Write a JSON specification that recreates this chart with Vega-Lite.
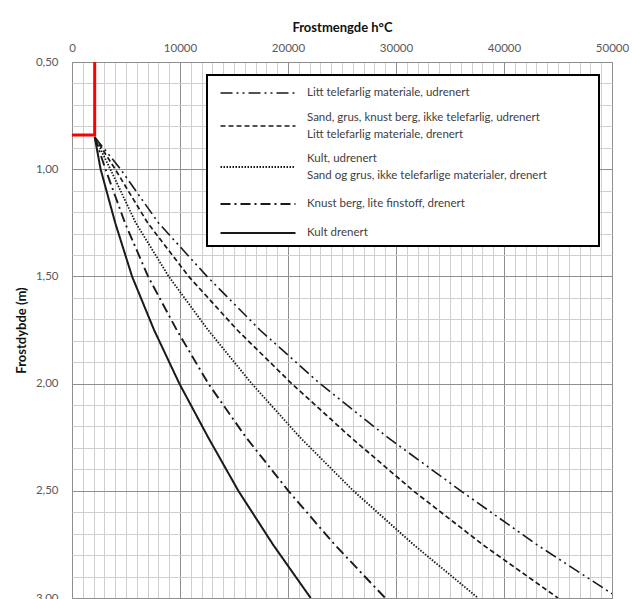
{
  "$schema": "https://vega.github.io/schema/vega-lite/v6.json",
  "width": 540,
  "height": 536,
  "autosize": {"type": "none"},
  "padding": {"left": 72, "top": 62, "right": 20, "bottom": 1},
  "background": "white",
  "config": {
    "font": "Lato",
    "view": {"stroke": "#9a9a9a", "strokeWidth": 1},
    "legend": {
      "orient": "none", "legendX": 135, "legendY": 13,
      "padding": 7, "gridAlign": "none",
      "strokeColor": "#000", "fillColor": "white",
      "symbolType": "M-3.75,0H3.75", "symbolSize": 400, "symbolStrokeColor": "#1a1a1a",
      "symbolOffset": 33,
      "labelFontSize": 11.5, "labelColor": "#404040", "labelLimit": 400, "labelOffset": 38,
      "rowPadding": 12,
      "titleOrient": "right", "titleFont": "DejaVu Sans", "titleFontSize": 13, "titlePadding": 4
    }
  },
  "datasets": {
    "curves": [
      {"kurve": "Litt telefarlig materiale, udrenert", "x": 2100, "y": 0.85},
      {"kurve": "Litt telefarlig materiale, udrenert", "x": 4500, "y": 1.0},
      {"kurve": "Litt telefarlig materiale, udrenert", "x": 8000, "y": 1.25},
      {"kurve": "Litt telefarlig materiale, udrenert", "x": 12500, "y": 1.5},
      {"kurve": "Litt telefarlig materiale, udrenert", "x": 17400, "y": 1.75},
      {"kurve": "Litt telefarlig materiale, udrenert", "x": 22960, "y": 2.0},
      {"kurve": "Litt telefarlig materiale, udrenert", "x": 29200, "y": 2.25},
      {"kurve": "Litt telefarlig materiale, udrenert", "x": 36000, "y": 2.5},
      {"kurve": "Litt telefarlig materiale, udrenert", "x": 43000, "y": 2.75},
      {"kurve": "Litt telefarlig materiale, udrenert", "x": 50000, "y": 2.98},

      {"kurve": "Sand, grus, knust berg, ikke telefarlig, udrenert|Litt telefarlig materiale, drenert", "x": 2100, "y": 0.85},
      {"kurve": "Sand, grus, knust berg, ikke telefarlig, udrenert|Litt telefarlig materiale, drenert", "x": 4000, "y": 1.0},
      {"kurve": "Sand, grus, knust berg, ikke telefarlig, udrenert|Litt telefarlig materiale, drenert", "x": 7000, "y": 1.25},
      {"kurve": "Sand, grus, knust berg, ikke telefarlig, udrenert|Litt telefarlig materiale, drenert", "x": 10800, "y": 1.5},
      {"kurve": "Sand, grus, knust berg, ikke telefarlig, udrenert|Litt telefarlig materiale, drenert", "x": 15300, "y": 1.75},
      {"kurve": "Sand, grus, knust berg, ikke telefarlig, udrenert|Litt telefarlig materiale, drenert", "x": 20340, "y": 2.0},
      {"kurve": "Sand, grus, knust berg, ikke telefarlig, udrenert|Litt telefarlig materiale, drenert", "x": 25800, "y": 2.25},
      {"kurve": "Sand, grus, knust berg, ikke telefarlig, udrenert|Litt telefarlig materiale, drenert", "x": 31600, "y": 2.5},
      {"kurve": "Sand, grus, knust berg, ikke telefarlig, udrenert|Litt telefarlig materiale, drenert", "x": 38000, "y": 2.75},
      {"kurve": "Sand, grus, knust berg, ikke telefarlig, udrenert|Litt telefarlig materiale, drenert", "x": 45000, "y": 3.0},

      {"kurve": "Kult, udrenert|Sand og grus, ikke telefarlige materialer, drenert", "x": 2100, "y": 0.85},
      {"kurve": "Kult, udrenert|Sand og grus, ikke telefarlige materialer, drenert", "x": 3550, "y": 1.0},
      {"kurve": "Kult, udrenert|Sand og grus, ikke telefarlige materialer, drenert", "x": 5900, "y": 1.25},
      {"kurve": "Kult, udrenert|Sand og grus, ikke telefarlige materialer, drenert", "x": 8950, "y": 1.5},
      {"kurve": "Kult, udrenert|Sand og grus, ikke telefarlige materialer, drenert", "x": 12600, "y": 1.75},
      {"kurve": "Kult, udrenert|Sand og grus, ikke telefarlige materialer, drenert", "x": 16640, "y": 2.0},
      {"kurve": "Kult, udrenert|Sand og grus, ikke telefarlige materialer, drenert", "x": 21100, "y": 2.25},
      {"kurve": "Kult, udrenert|Sand og grus, ikke telefarlige materialer, drenert", "x": 26050, "y": 2.5},
      {"kurve": "Kult, udrenert|Sand og grus, ikke telefarlige materialer, drenert", "x": 31600, "y": 2.75},
      {"kurve": "Kult, udrenert|Sand og grus, ikke telefarlige materialer, drenert", "x": 37600, "y": 3.0},

      {"kurve": "Knust berg, lite finstoff, drenert", "x": 2100, "y": 0.85},
      {"kurve": "Knust berg, lite finstoff, drenert", "x": 3100, "y": 1.0},
      {"kurve": "Knust berg, lite finstoff, drenert", "x": 4900, "y": 1.25},
      {"kurve": "Knust berg, lite finstoff, drenert", "x": 7040, "y": 1.5},
      {"kurve": "Knust berg, lite finstoff, drenert", "x": 9700, "y": 1.75},
      {"kurve": "Knust berg, lite finstoff, drenert", "x": 12620, "y": 2.0},
      {"kurve": "Knust berg, lite finstoff, drenert", "x": 16100, "y": 2.25},
      {"kurve": "Knust berg, lite finstoff, drenert", "x": 20030, "y": 2.5},
      {"kurve": "Knust berg, lite finstoff, drenert", "x": 24300, "y": 2.75},
      {"kurve": "Knust berg, lite finstoff, drenert", "x": 29000, "y": 3.0},

      {"kurve": "Kult drenert", "x": 2100, "y": 0.85},
      {"kurve": "Kult drenert", "x": 2650, "y": 1.0},
      {"kurve": "Kult drenert", "x": 4000, "y": 1.25},
      {"kurve": "Kult drenert", "x": 5560, "y": 1.5},
      {"kurve": "Kult drenert", "x": 7600, "y": 1.75},
      {"kurve": "Kult drenert", "x": 9940, "y": 2.0},
      {"kurve": "Kult drenert", "x": 12600, "y": 2.25},
      {"kurve": "Kult drenert", "x": 15400, "y": 2.5},
      {"kurve": "Kult drenert", "x": 18600, "y": 2.75},
      {"kurve": "Kult drenert", "x": 22100, "y": 3.0}
    ],
    "marker": [
      {"i": 0, "x": 0, "y": 0.84},
      {"i": 1, "x": 2100, "y": 0.84},
      {"i": 2, "x": 2100, "y": 0.5}
    ]
  },
  "encoding": {
    "x": {
      "field": "x", "type": "quantitative",
      "scale": {"domain": [0, 50000], "nice": false, "zero": false},
      "axis": {
        "orient": "top",
        "title": "Frostmengde h°C",
        "titleFontSize": 13, "titleFontWeight": "bold", "titleColor": "#111", "titlePadding": 8,
        "values": [0,1000,2000,3000,4000,5000,6000,7000,8000,9000,10000,11000,12000,13000,14000,15000,16000,17000,18000,19000,20000,21000,22000,23000,24000,25000,26000,27000,28000,29000,30000,31000,32000,33000,34000,35000,36000,37000,38000,39000,40000,41000,42000,43000,44000,45000,46000,47000,48000,49000,50000],
        "labelExpr": "datum.value % 10000 === 0 ? format(datum.value, 'd') : ''",
        "labelOverlap": false, "labelFlush": false,
        "labelFontSize": 11.5, "labelColor": "#595959", "labelPadding": 9,
        "ticks": false, "domain": false,
        "grid": true,
        "gridColor": {"condition": {"test": "datum.value % 10000 === 0", "value": "#8f8f8f"}, "value": "#cfcfcf"},
        "gridWidth": 1, "gridOpacity": 1
      }
    },
    "y": {
      "field": "y", "type": "quantitative",
      "scale": {"domain": [0.5, 3.0], "reverse": true, "nice": false, "zero": false},
      "axis": {
        "title": "Frostdybde (m)",
        "titleFontSize": 13, "titleFontWeight": "bold", "titleColor": "#111", "titlePadding": 7,
        "values": [0.5,0.6,0.7,0.8,0.9,1.0,1.1,1.2,1.3,1.4,1.5,1.6,1.7,1.8,1.9,2.0,2.1,2.2,2.3,2.4,2.5,2.6,2.7,2.8,2.9,3.0],
        "labelExpr": "abs(datum.value*2 - round(datum.value*2)) < 0.001 ? replace(format(datum.value, '.2f'), '.', ',') : ''",
        "labelOverlap": false, "labelFlush": false,
        "labelFontSize": 11.5, "labelColor": "#595959", "labelPadding": 14,
        "ticks": false, "domain": false,
        "grid": true,
        "gridColor": {"condition": {"test": "abs(datum.value*2 - round(datum.value*2)) < 0.001", "value": "#8f8f8f"}, "value": "#cfcfcf"},
        "gridWidth": 1, "gridOpacity": 1
      }
    }
  },
  "layer": [
    {
      "data": {"name": "curves"},
      "mark": {"type": "line", "color": "#1a1a1a", "clip": true},
      "encoding": {
        "strokeDash": {
          "field": "kurve", "type": "nominal",
          "scale": {
            "domain": ["Litt telefarlig materiale, udrenert", "Sand, grus, knust berg, ikke telefarlig, udrenert|Litt telefarlig materiale, drenert", "Kult, udrenert|Sand og grus, ikke telefarlige materialer, drenert", "Knust berg, lite finstoff, drenert", "Kult drenert"],
            "range": [[12, 4, 2, 4, 2, 4], [5, 3], [1.5, 1.5], [10, 4, 2, 4], [1, 0]]
          },
          "legend": {
            "title": "\u2800\u2800\u2800\u2800",
            "labelExpr": "split(datum.label, '|')",
            "encode": {
              "legend": {"update": {"strokeWidth": {"value": 2}}},
              "labels": {"update": {"lineHeight": {"value": 17}, "dy": {"signal": "indexof(datum.label, '|') >= 0 ? -8.5 : 0"}}}
            }
          }
        },
        "strokeWidth": {
          "field": "kurve", "type": "nominal",
          "scale": {
            "domain": ["Litt telefarlig materiale, udrenert", "Sand, grus, knust berg, ikke telefarlig, udrenert|Litt telefarlig materiale, drenert", "Kult, udrenert|Sand og grus, ikke telefarlige materialer, drenert", "Knust berg, lite finstoff, drenert", "Kult drenert"],
            "range": [1.6, 2, 1.2, 1.8, 2.6]
          },
          "legend": {
            "title": "\u2800\u2800\u2800\u2800",
            "labelExpr": "split(datum.label, '|')",
            "encode": {
              "legend": {"update": {"strokeWidth": {"value": 2}}},
              "labels": {"update": {"lineHeight": {"value": 17}, "dy": {"signal": "indexof(datum.label, '|') >= 0 ? -8.5 : 0"}}}
            }
          }
        }
      }
    },
    {
      "data": {"name": "marker"},
      "mark": {"type": "line", "color": "#ff0000", "strokeWidth": 3, "clip": true},
      "encoding": {
        "order": {"field": "i", "type": "quantitative"}
      }
    }
  ]
}
